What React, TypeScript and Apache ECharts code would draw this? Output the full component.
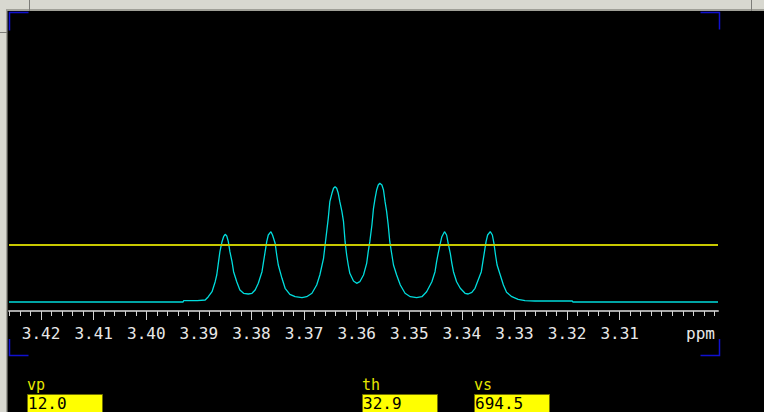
import { useEffect, useRef } from "react";
import * as echarts from "echarts";

// Chemical shift (ppm) of each read point, left to right on screen
const PPM = [
  3.4261, 3.393, 3.3929, 3.3903,
  3.3888, 3.3882, 3.3875, 3.3869, 3.3866, 3.3863, 3.386, 3.3856, 3.3853, 3.385,
  3.3847, 3.3844, 3.3841, 3.3837, 3.3834, 3.3828, 3.3822, 3.3815, 3.3806, 3.3799,
  3.3793, 3.3787, 3.378, 3.3777, 3.3774, 3.3771, 3.3768, 3.3763, 3.376, 3.3755,
  3.3752, 3.3749, 3.3742, 3.3736, 3.3727, 3.3717, 3.3704, 3.3695, 3.3685, 3.3676,
  3.367, 3.3663, 3.366, 3.3657, 3.3654, 3.3651, 3.3647, 3.3644, 3.3641, 3.3638,
  3.3635, 3.3632, 3.3628, 3.3625, 3.3622, 3.3619, 3.3616, 3.3613, 3.3606, 3.36,
  3.3594, 3.3587, 3.3581, 3.3578, 3.3575, 3.3571, 3.3568, 3.3565, 3.3562, 3.3559,
  3.3556, 3.3552, 3.3549, 3.3546, 3.3543, 3.354, 3.3537, 3.3533, 3.353, 3.3524,
  3.3517, 3.3508, 3.3498, 3.3486, 3.3476, 3.3467, 3.3457, 3.3451, 3.3448, 3.3445,
  3.3441, 3.3438, 3.3433, 3.3429, 3.3426, 3.3422, 3.3419, 3.3416, 3.341, 3.3403,
  3.3394, 3.3388, 3.3381, 3.3375, 3.3369, 3.3363, 3.336, 3.3357, 3.3354, 3.3351,
  3.3346, 3.3342, 3.3339, 3.3336, 3.3333, 3.3327, 3.3321, 3.3315, 3.3305, 3.3293,
  3.328, 3.3261, 3.319, 3.3189, 3.2913,
];

// Signal intensity at each point (arbitrary units)
const INTENSITY = [
  0, 0, 1.3, 1.3,
  2, 5.3, 10.3, 20.3, 27, 38.7, 50.3, 60.3, 65.3, 67.7,
  66, 60.3, 50.3, 40.3, 30.3, 20.3, 12, 8.7, 8, 8.7,
  12, 18.7, 30.3, 40.3, 50.3, 60.3, 67, 70.3, 67, 58.7,
  47, 37, 23.7, 13.7, 7.7, 5.3, 4.3, 5.3, 8.7, 17,
  27, 43.7, 57, 70.3, 83.7, 100.3, 108.7, 113.7, 115.3, 113.7,
  108.7, 100.3, 90.3, 80.3, 60.3, 47, 37, 28.7, 21, 18.7,
  20.3, 27, 38.7, 50.3, 60.3, 77, 93.7, 103.7, 112, 117,
  118.7, 117, 112, 100.3, 90.3, 77, 60.3, 47, 37, 27,
  17, 8.7, 5.3, 4.3, 5.3, 10.3, 20.3, 30.3, 40.3, 48.7,
  58.7, 65.3, 70.3, 67, 58.7, 48.7, 38.7, 30.3, 20.3, 13.7,
  8.7, 8, 9.7, 13.7, 22, 30.3, 40.3, 50.3, 60.3, 67,
  70.3, 67, 58.7, 47, 37, 27, 17, 9.7, 5.3, 2.7,
  1.3, 1, 1, 0, 0,
];

const MAJOR_TICKS = [3.42, 3.41, 3.4, 3.39, 3.38, 3.37, 3.36, 3.35, 3.34, 3.33, 3.32, 3.31];
const AXIS_MIN = 3.2913;
const AXIS_MAX = 3.4261;
const THRESHOLD = 57.6;

const PARAM_NAMES = ["vp", "th", "vs"];
const PARAM_VALUES = ["12.0", "32.9", "694.5"];
const PARAM_X = [27, 362, 474];

const MONO = "'DejaVu Sans Mono', 'Liberation Mono', monospace";

function buildMinorTicks(): number[] {
  const out: number[] = [];
  for (let k = 1646; k <= 1713; k++) out.push(Math.round(k * 2) / 1000);
  return out;
}

export default function App() {
  const ref = useRef<HTMLDivElement>(null);

  useEffect(() => {
    if (!ref.current) return;
    const chart = echarts.init(ref.current, null, { renderer: "svg" });
    const minor = buildMinorTicks();
    const data = PPM.map((p, i) => [p, INTENSITY[i]]);

    const blue = { stroke: "#1010d0", lineWidth: 1.5, fill: "none" };
    const graphics: any[] = [
      // window frame
      { type: "rect", shape: { x: 0, y: 0, width: 764, height: 9 }, style: { fill: "#d8d8d0" }, silent: true },
      { type: "rect", shape: { x: 0, y: 9, width: 764, height: 2 }, style: { fill: "#a0a098" }, silent: true },
      { type: "rect", shape: { x: 0, y: 0, width: 6, height: 412 }, style: { fill: "#d8d8d0" }, silent: true },
      { type: "rect", shape: { x: 6, y: 11, width: 1.5, height: 401 }, style: { fill: "#a0a098" }, silent: true },
      { type: "line", shape: { x1: 29.5, y1: 0, x2: 29.5, y2: 11 }, style: { stroke: "#7c7c78", lineWidth: 1 }, silent: true },
      { type: "line", shape: { x1: 751.5, y1: 0, x2: 751.5, y2: 11 }, style: { stroke: "#7c7c78", lineWidth: 1 }, silent: true },
      { type: "line", shape: { x1: 0, y1: 32.5, x2: 7, y2: 32.5 }, style: { stroke: "#7c7c78", lineWidth: 1 }, silent: true },
      // blue corner marks
      { type: "polyline", shape: { points: [[9.5, 30.5], [9.5, 12.5], [28.5, 12.5]] }, style: blue, silent: true, z: 10 },
      { type: "polyline", shape: { points: [[700.5, 12.5], [719.5, 12.5], [719.5, 29.5]] }, style: blue, silent: true, z: 10 },
      { type: "polyline", shape: { points: [[9.5, 339], [9.5, 355.5], [28.5, 355.5]] }, style: blue, silent: true, z: 10 },
      { type: "polyline", shape: { points: [[719.5, 339], [719.5, 355.5], [700.5, 355.5]] }, style: blue, silent: true, z: 10 },
      // axis unit
      { type: "text", x: 686, y: 333, style: { text: "ppm", fill: "#e8e8e8", font: `16px ${MONO}`, textAlign: "left", textVerticalAlign: "middle" }, silent: true },
    ];

    PARAM_NAMES.forEach((name, i) => {
      const x = PARAM_X[i];
      graphics.push({ type: "text", x: x, y: 385, style: { text: name, fill: "#e6e600", font: `15px ${MONO}`, textAlign: "left", textVerticalAlign: "middle" }, silent: true });
      graphics.push({ type: "rect", shape: { x: x + 0.5, y: 394.5, width: 75, height: 20 }, style: { fill: "#ffff00", stroke: "#707000", lineWidth: 1 }, silent: true });
      graphics.push({ type: "text", x: x + 1, y: 403.5, style: { text: PARAM_VALUES[i], fill: "#000000", font: `16px ${MONO}`, textAlign: "left", textVerticalAlign: "middle" }, silent: true });
    });

    chart.setOption({
      animation: false,
      backgroundColor: "#000000",
      grid: { left: 9, right: 46, top: 12, bottom: 101, containLabel: false },
      xAxis: [
        {
          type: "value",
          min: AXIS_MIN,
          max: AXIS_MAX,
          inverse: true,
          position: "bottom",
          axisLine: { show: true, onZero: false, lineStyle: { color: "#a8a8a8", width: 2 } },
          axisTick: { show: true, customValues: minor, length: 5, lineStyle: { color: "#d4d4d4", width: 1 } },
          axisLabel: { show: false },
          splitLine: { show: false },
        },
        {
          type: "value",
          min: AXIS_MIN,
          max: AXIS_MAX,
          inverse: true,
          position: "bottom",
          axisLine: { show: false, onZero: false },
          axisTick: { show: true, customValues: MAJOR_TICKS, length: 9, lineStyle: { color: "#d4d4d4", width: 1 } },
          axisLabel: {
            show: true,
            customValues: MAJOR_TICKS,
            formatter: (v: number) => v.toFixed(2),
            color: "#e8e8e8",
            fontFamily: MONO,
            fontSize: 16,
            margin: 14,
          },
          splitLine: { show: false },
        },
      ],
      yAxis: { type: "value", min: -9, max: 290, show: false },
      series: [
        {
          type: "line",
          xAxisIndex: 0,
          data: data,
          showSymbol: false,
          symbol: "none",
          lineStyle: { color: "#00dcdc", width: 1.3 },
          markLine: {
            silent: true,
            symbol: ["none", "none"],
            label: { show: false },
            lineStyle: { color: "#c8c800", width: 2, type: "solid" },
            data: [{ yAxis: THRESHOLD }],
          },
        },
      ],
      graphic: graphics,
    });

    return () => chart.dispose();
  }, []);

  return (
    <div
      ref={ref}
      style={{ position: "absolute", left: 0, top: 0, width: 764, height: 412, background: "#000" }}
    />
  );
}
